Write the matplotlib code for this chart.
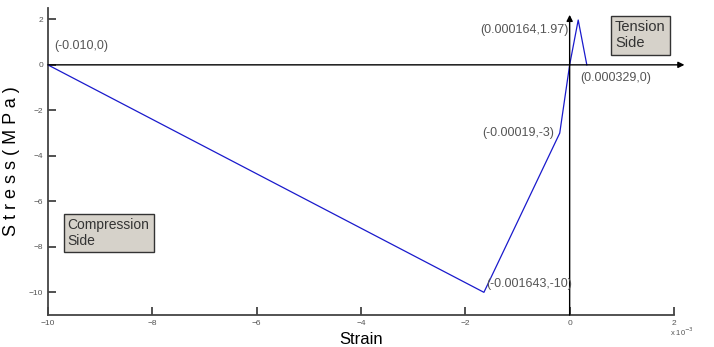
import matplotlib.pyplot as plt

plt.rcParams['font.family'] = ['Liberation Sans Narrow', 'Liberation Sans', 'DejaVu Sans']

# strain in units of 1e-3, stress in MPa
strain = [-10.0, -1.643, -0.19, 0.0, 0.164, 0.329]
stress = [0.0, -10.0, -3.0, 0.0, 1.97, 0.0]

xticks = [-10, -8, -6, -4, -2, 0, 2]
yticks = [-10, -8, -6, -4, -2, 0, 2]

labels = ["(-0.010,0)", "(-0.001643,-10)", "(-0.00019,-3)",
          "(0.000164,1.97)", "(0.000329,0)"]

fig = plt.figure(figsize=(7.14, 3.47), dpi=100)
ax = fig.add_axes([0.067, 0.092, 0.877, 0.885])

ax.plot(strain, stress, color="#1a1acc", lw=0.9, zorder=3)

ax.set_xlim(-10, 2)
ax.set_ylim(-11, 2.5)
ax.spines["top"].set_visible(False)
ax.spines["right"].set_visible(False)
ax.spines["left"].set_color("#444444")
ax.spines["bottom"].set_color("#444444")
ax.spines["left"].set_linewidth(1.3)
ax.spines["bottom"].set_linewidth(1.3)
ax.set_xticks(xticks)
ax.set_yticks(yticks)
ax.tick_params(direction="in", length=6, width=1.2, colors="#333333",
               labelsize=6, labelcolor="#555555")

# origin axes with arrows
ax.annotate("", xy=(2.2, 0), xytext=(-10, 0), annotation_clip=False,
            arrowprops=dict(arrowstyle="-|>", color="black", lw=1.0,
                            mutation_scale=9, shrinkA=0, shrinkB=0))
ax.annotate("", xy=(0, 2.2), xytext=(0, -11), annotation_clip=False,
            arrowprops=dict(arrowstyle="-|>", color="black", lw=1.0,
                            mutation_scale=9, shrinkA=0, shrinkB=0))

tc = "#555555"
fs = 9
ax.text(-9.87, 0.55, labels[0], color=tc, fontsize=fs, ha="left", va="bottom")
ax.text(-1.6, -9.65, labels[1], color=tc, fontsize=fs, ha="left", va="center")
ax.text(-0.3, -3.0, labels[2], color=tc, fontsize=fs, ha="right", va="center")
ax.text(-0.02, 1.55, labels[3], color=tc, fontsize=fs, ha="right", va="center")
ax.text(0.2, -0.6, labels[4], color=tc, fontsize=fs, ha="left", va="center")

box = dict(boxstyle="square,pad=0.3", facecolor="#d6d2ca", edgecolor="#333333", lw=1.0)
ax.text(0.87, 1.3, "Tension\nSide", fontsize=10.5, color="#333333",
        ha="left", va="center", linespacing=1.2, bbox=box)
ax.text(-9.62, -7.4, "Compression\nSide", fontsize=10, color="#333333",
        ha="left", va="center", linespacing=1.2, bbox=box)

ax.set_xlabel("Strain", fontsize=12, labelpad=4)
ax.set_ylabel("S t r e s s ( M P a )", fontsize=13, labelpad=6)
fig.text(0.955, 0.032, r"x 10$^{-3}$", fontsize=5.5, color="#555555", ha="center")

fig.savefig("out.png", dpi=100)
